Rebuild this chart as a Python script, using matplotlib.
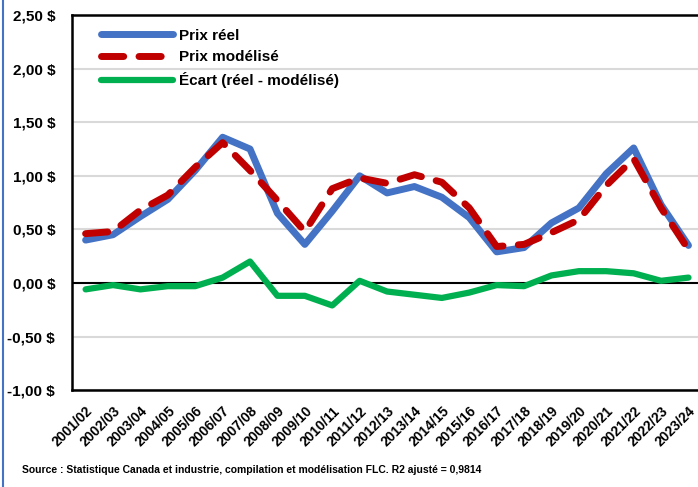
import matplotlib.pyplot as plt
from matplotlib.lines import Line2D

# campaign years
years = ["2001/02", "2002/03", "2003/04", "2004/05", "2005/06", "2006/07", "2007/08",
         "2008/09", "2009/10", "2010/11", "2011/12", "2012/13", "2013/14", "2014/15",
         "2015/16", "2016/17", "2017/18", "2018/19", "2019/20", "2020/21", "2021/22",
         "2022/23", "2023/24"]

prix_reel = [0.40, 0.45, 0.62, 0.78, 1.05, 1.36, 1.25, 0.65, 0.36, 0.67, 1.00, 0.84,
             0.90, 0.80, 0.61, 0.29, 0.33, 0.56, 0.70, 1.02, 1.26, 0.73, 0.35]
prix_modelise = [0.46, 0.48, 0.68, 0.82, 1.08, 1.31, 1.05, 0.77, 0.48, 0.88, 0.98, 0.93,
                 1.01, 0.94, 0.70, 0.34, 0.36, 0.47, 0.59, 0.91, 1.16, 0.70, 0.31]
ecart = [-0.06, -0.02, -0.06, -0.03, -0.03, 0.05, 0.20, -0.12, -0.12, -0.21, 0.02, -0.08,
         -0.11, -0.14, -0.09, -0.02, -0.03, 0.07, 0.11, 0.11, 0.09, 0.02, 0.05]

yticks = [-1.0, -0.5, 0.0, 0.5, 1.0, 1.5, 2.0, 2.5]

plt.rcParams['font.family'] = ['Liberation Sans', 'DejaVu Sans']
plt.rcParams['font.weight'] = 'bold'

fig = plt.figure(figsize=(6.98, 4.87), dpi=100)
ax = fig.add_axes([0.103, 0.199, 0.903, 0.770])

x = list(range(len(years)))
ax.plot(x, prix_reel, color='#4472C4', lw=5, solid_capstyle='round', label='Prix réel', zorder=3)
ax.plot(x, prix_modelise, color='#C00000', lw=5, dashes=(3.2, 2.2), dash_capstyle='round',
        label='Prix modélisé', zorder=4)
ax.plot(x, ecart, color='#00B050', lw=4.5, solid_capstyle='round',
        label='Écart (réel - modélisé)', zorder=3)

ax.set_xlim(-0.5, len(years) - 0.5)
ax.set_ylim(-1.0, 2.5)
ax.set_yticks(yticks)
ax.set_yticklabels([f"{v:.2f} $".replace('.', ',') for v in yticks], fontsize=11, fontweight='bold')
ax.set_xticks(x)
ax.set_xticklabels(years, rotation=45, ha='right', rotation_mode='anchor', fontsize=10, fontweight='bold')
ax.tick_params(axis='both', length=0)
ax.tick_params(axis='x', pad=10)
ax.tick_params(axis='y', pad=12)

# gridlines, with the zero line in black
for v in yticks:
    if v != 0:
        ax.axhline(v, color='#D9D9D9', lw=1.5, zorder=1)
ax.axhline(0, color='black', lw=1.5, zorder=2)

for s in ax.spines.values():
    s.set_linewidth(1.8)
    s.set_color('black')

leg = ax.legend(loc='upper left', bbox_to_anchor=(0.025, 1.0), frameon=False, fontsize=11,
                handlelength=4.7, handletextpad=0.35, labelspacing=0.5)
for t in leg.get_texts():
    t.set_fontweight('bold')

fig.text(0.032, 0.028, "Source : Statistique Canada et industrie, compilation et modélisation FLC. R2 ajusté = 0,9814",
         fontsize=7.5, fontweight='bold')

# blue border at left edge of the image
fig.add_artist(Line2D([0.005, 0.005], [0, 1], transform=fig.transFigure, color='#4472C4', lw=1.5))

fig.savefig('out.png', dpi=100)
